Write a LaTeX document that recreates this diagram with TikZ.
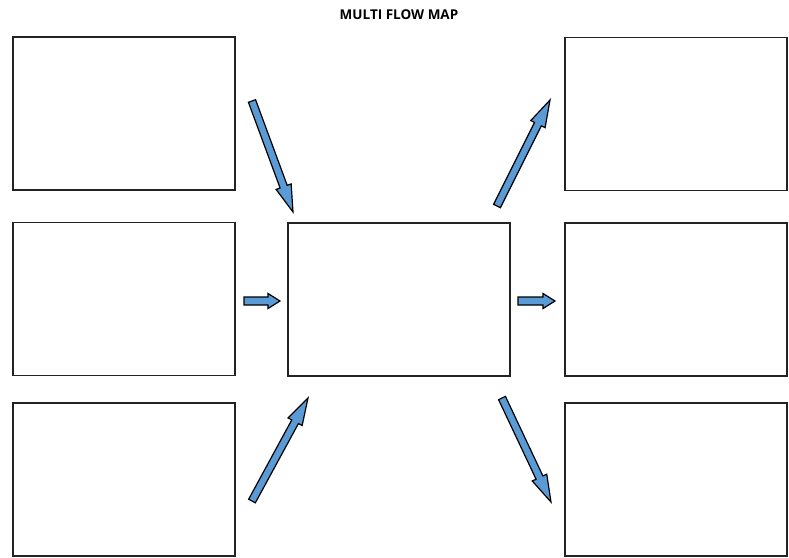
\documentclass[tikz,border=0pt]{standalone}
\usepackage{fontspec}
\setmainfont{Open Sans}
\usetikzlibrary{calc}
\definecolor{arrblue}{RGB}{91,155,213}
\definecolor{boxline}{RGB}{35,35,35}
\tikzset{
  mapbox/.style={draw=boxline, line width=1.8pt, fill=white, minimum width=222pt, minimum height=153pt, inner sep=0pt},
  barrow/.style={draw=black, line width=1.2pt, fill=arrblue, line join=miter},
  titletext/.style={font=\bfseries\fontsize{13.5}{15}\selectfont, inner sep=0pt}
}
\newcommand\blockarr[5]{%
  \coordinate (hb) at ($(#2)!#5!(#1)$);
  \draw[barrow] ($(#1)!#3!90:(#2)$) -- ($(hb)!#3!90:(#2)$) -- ($(hb)!#4!90:(#2)$) -- (#2)
    -- ($(hb)!#4!-90:(#2)$) -- ($(hb)!#3!-90:(#2)$) -- ($(#1)!#3!-90:(#2)$) -- cycle;}
\begin{document}
\begin{tikzpicture}[x=1pt,y=-1pt]
  \useasboundingbox (0,0) rectangle (789,557);
  \node[titletext] (title) at (399,14.5) {MULTI FLOW MAP};
  % left column
  \node[mapbox] (l1) at (124,113.5) {};
  \node[mapbox] (l2) at (124,299) {};
  \node[mapbox] (l3) at (124,479.5) {};
  % center
  \node[mapbox] (c) at (399,299.5) {};
  % right column
  \node[mapbox] (r1) at (676,114) {};
  \node[mapbox] (r2) at (676,299.5) {};
  \node[mapbox] (r3) at (676,479.5) {};
  % arrow end points
  \coordinate (a1s) at (252,101);
  \coordinate (a1e) at (293,212);
  \coordinate (a2s) at (244,301);
  \coordinate (a2e) at (280,301);
  \coordinate (a3s) at (252,501);
  \coordinate (a3e) at (308,398);
  \coordinate (b1s) at (497,206);
  \coordinate (b1e) at (550,100);
  \coordinate (b2s) at (518,301);
  \coordinate (b2e) at (555,301);
  \coordinate (b3s) at (502,398);
  \coordinate (b3e) at (551,502);
  \blockarr{a1s}{a1e}{3.8pt}{8pt}{27pt}
  \blockarr{a2s}{a2e}{4pt}{7.5pt}{12pt}
  \blockarr{a3s}{a3e}{3.8pt}{8pt}{27pt}
  \blockarr{b1s}{b1e}{3.8pt}{8pt}{27pt}
  \blockarr{b2s}{b2e}{4pt}{7.5pt}{12pt}
  \blockarr{b3s}{b3e}{3.8pt}{8pt}{27pt}
\end{tikzpicture}
\end{document}
